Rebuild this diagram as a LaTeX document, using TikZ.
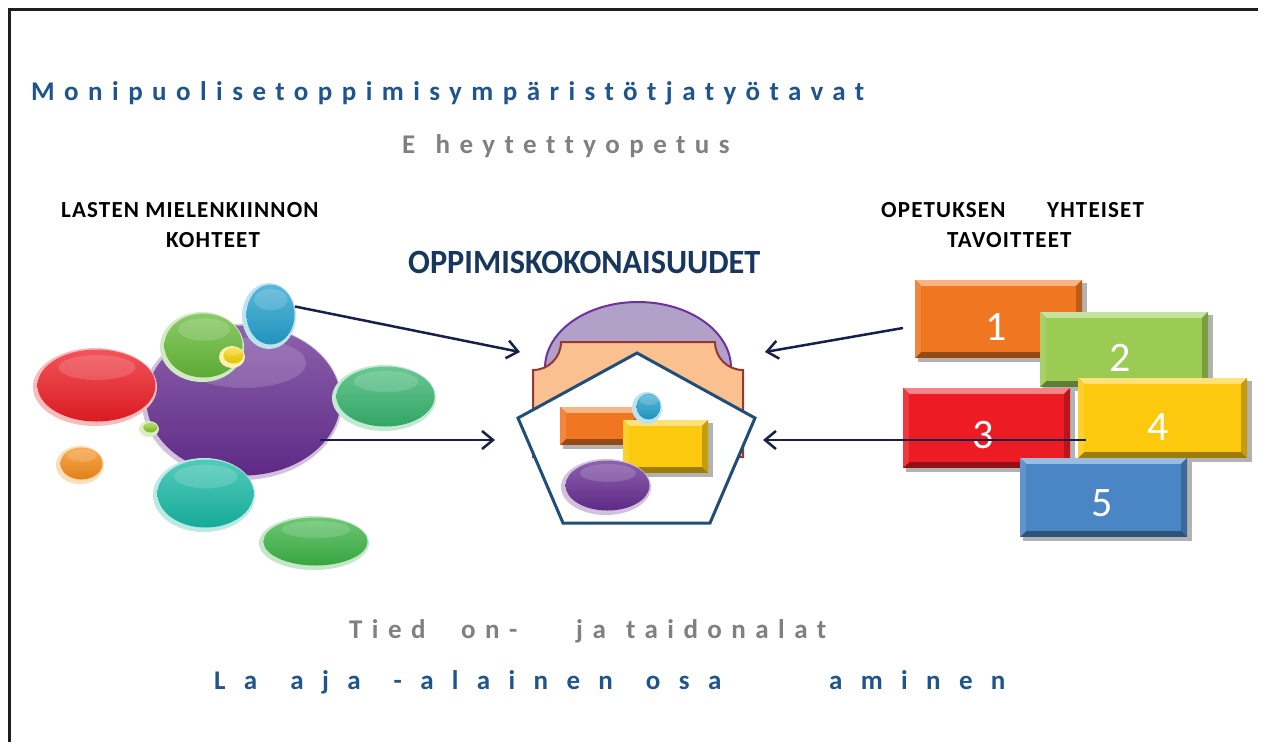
\documentclass[tikz,border=0pt]{standalone}
\usepackage{fontspec}
\setmainfont{Carlito}
\newfontfamily\wideA{Carlito}[LetterSpace=35,WordSpace=1.3,Ligatures=NoCommon]
\newfontfamily\wideB{Carlito}[LetterSpace=68,WordSpace=1.35,Ligatures=NoCommon]
\newfontfamily\headfont{Carlito}[LetterSpace=5,Ligatures=NoCommon]
\usetikzlibrary{arrows.meta,shapes.geometric,calc}
\definecolor{titleblue}{RGB}{31,85,140}
\definecolor{navytxt}{RGB}{23,55,94}
\definecolor{greytxt}{RGB}{128,128,128}
\definecolor{arrnavy}{RGB}{23,32,74}
\definecolor{framec}{RGB}{30,30,30}
\definecolor{cred}{RGB}{237,28,36}
\definecolor{cpurple}{RGB}{102,45,145}
\definecolor{cgreen}{RGB}{100,185,55}
\definecolor{cblue}{RGB}{35,160,205}
\definecolor{cyellow}{RGB}{245,210,0}
\definecolor{cgreendot}{RGB}{140,200,40}
\definecolor{cgreenR}{RGB}{55,180,110}
\definecolor{corange}{RGB}{245,140,25}
\definecolor{cteal}{RGB}{25,185,165}
\definecolor{cgreenB}{RGB}{60,180,70}
\definecolor{lav}{RGB}{177,160,199}
\definecolor{lavline}{RGB}{112,48,160}
\definecolor{peach}{RGB}{250,192,144}
\definecolor{peachline}{RGB}{149,55,53}
\definecolor{pentline}{RGB}{31,78,121}
\definecolor{bOrange}{RGB}{240,118,34}
\definecolor{bGreen}{RGB}{155,203,82}
\definecolor{bRed}{RGB}{237,28,36}
\definecolor{bYellow}{RGB}{252,201,15}
\definecolor{bBlue}{RGB}{74,134,197}
\tikzset{
  txt/.style={inner sep=0pt, anchor=base west},
  head/.style={txt, font=\fontsize{23}{27}\selectfont\headfont\bfseries, text=black},
  bigA/.style={txt, font=\fontsize{27}{32}\selectfont\wideA\bfseries},
  bigB/.style={txt, font=\fontsize{27}{32}\selectfont\wideB\bfseries},
  num/.style={inner sep=0pt, text=white, font=\fontsize{42}{46}\selectfont},
  arr/.style={draw=arrnavy, line width=2.5pt, -{Straight Barb[length=11pt,width=18pt,line width=2.5pt]}},
}
\newcommand\blob[6]{%
  \node[ellipse, inner sep=0pt, minimum width=#4*2pt, minimum height=#5*2pt, fill=#6!30!white] (#1) at (#2,#3) {};
  \shade[top color=#6!75!white, bottom color=#6!92!black] ({#2+1.5},{#3-1.5}) ellipse [x radius={#4-3}, y radius={#5-3}];
  \fill[white, opacity=0.15] ({#2+2},{#3-#5*0.5}) ellipse [x radius={#4*0.62}, y radius={#5*0.32}];
}
\newcommand\bevbox[5]{%
  \fill[black!30] ({#1+3},{#2+3}) rectangle ({#3+5},{#4+4});
  \fill[#5!62!black] (#1,#2) rectangle (#3,#4);
  \fill[#5!55!white] (#1,#2) -- (#3,#2) -- ({#3-6},{#2+6}) -- ({#1+6},{#2+6}) -- cycle;
  \fill[#5!88!white] (#1,#2) -- ({#1+6},{#2+6}) -- ({#1+6},{#4-6}) -- (#1,#4) -- cycle;
  \fill[#5!78!black] (#3,#2) -- (#3,#4) -- ({#3-6},{#4-6}) -- ({#3-6},{#2+6}) -- cycle;
  \fill[#5] ({#1+6},{#2+6}) rectangle ({#3-6},{#4-6});
}
\begin{document}
\begin{tikzpicture}[x=1pt,y=-1pt]
\useasboundingbox (0,0) rectangle (1268,742);
\fill[white] (0,0) rectangle (1268,742);
% frame
\draw[framec, line width=3pt] (9,742) -- (9,9) -- (1258,9);

% texts
\node[bigA, text=titleblue] (title) at (31,100) {Monipuolisetoppimisympäristötjatyötavat};
\node[bigA, text=greytxt] (sub) at (402,153) {E heytettyopetus};
\node[head] (l1) at (61,217) {LASTEN MIELENKIINNON};
\node[head] (l2) at (166,247) {KOHTEET};
\node[head] (r1a) at (881,217) {OPETUKSEN};
\node[head] (r1b) at (1047,217) {YHTEISET};
\node[head] (r2) at (947,247) {TAVOITTEET};
\node[txt, text=navytxt, font=\fontsize{34}{40}\selectfont\bfseries] (mid) at (408,273) {\scalebox{0.95}[1]{OPPIMISKOKONAISUUDET}};
\node[bigA, text=greytxt] (b1a) at (349,638) {Tied};
\node[bigA, text=greytxt] (b1b) at (461,638) {on-};
\node[bigA, text=greytxt] (b1c) at (576,638) {ja taidonalat};
\node[bigB, text=titleblue] (b2a) at (214,689) {La aja -alainen osa};
\node[bigB, text=titleblue] (b2b) at (829,689) {aminen};

% left cluster
\blob{purple}{242}{402}{100}{78}{cpurple}
\blob{red}{95}{387}{62}{39}{cred}
\blob{greenT}{202}{347}{42}{35}{cgreen}
\blob{blueT}{269}{316}{27}{33}{cblue}
\blob{yel}{232}{357}{13}{11}{cyellow}
\blob{gdot}{149}{429}{10}{8}{cgreendot}
\blob{greenR}{384}{398}{52}{33}{cgreenR}
\blob{orng}{80}{465}{24}{19}{corange}
\blob{teal}{204}{495}{51}{37}{cteal}
\blob{greenB}{314}{543}{55}{27}{cgreenB}

% centre figure
\fill[lav, draw=lavline, line width=2pt] (638,368) ellipse [x radius=93, y radius=66];
\filldraw[fill=peach, draw=peachline, line width=2pt]
  (533,457) -- (533,370) .. controls (548.5,370) and (561,357.5) .. (561,342)
  -- (715,342) .. controls (715,357.5) and (727.5,370) .. (743,370) -- (743,457) -- cycle;
\filldraw[fill=white, draw=pentline, line width=3pt]
  (637,353) -- (755,418) -- (710,523) -- (563,523) -- (518,418) -- cycle;
\bevbox{560}{407}{640}{445}{bOrange}
\bevbox{623}{420}{708}{473}{bYellow}
\blob{ball}{647}{408}{15}{16}{cblue}
\blob{pblob}{606}{487}{45}{28}{cpurple}

% right boxes
\bevbox{915}{280}{1082}{358}{bOrange}
\node[num] (n1) at (996,327) {1};
\bevbox{1040}{312}{1208}{387}{bGreen}
\node[num] (n2) at (1120,358) {2};
\bevbox{903}{388}{1070}{468}{bRed}
\node[num] (n3) at (983,435) {3};
\bevbox{1078}{378}{1247}{458}{bYellow}
\node[num] (n4) at (1158,427) {4};
\bevbox{1020}{458}{1187}{537}{bBlue}
\node[num] (n5) at (1102,503) {5};

% arrows
\coordinate (t1) at (520,352);
\coordinate (s2) at (320,440);
\coordinate (t2) at (495,440);
\coordinate (s3) at (903,328);
\coordinate (t3) at (765,352);
\coordinate (s4) at (1086,440);
\coordinate (t4) at (763,440);
\draw[arr] (blueT.20) -- (t1);
\draw[arr] (s2) -- (t2);
\draw[arr] (s3) -- (t3);
\draw[arr] (s4) -- (t4);
\end{tikzpicture}
\end{document}
